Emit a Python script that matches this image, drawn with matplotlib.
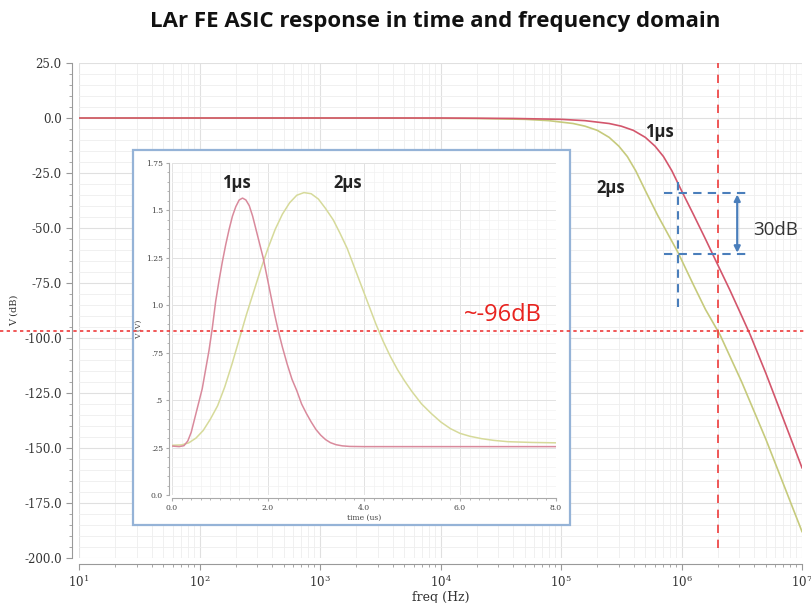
import numpy as np
import matplotlib
matplotlib.use("Agg")
import matplotlib.pyplot as plt
import matplotlib.ticker as mticker
import matplotlib.transforms as mtrans
from matplotlib.patches import Rectangle
from matplotlib.lines import Line2D

plt.rcParams['mathtext.fontset'] = 'dejavuserif'

# Frequency response
freq_2us = [1e1, 3.16e3, 2.0e4, 5.01e4, 7.94e4, 1.26e5, 1.58e5, 2.0e5, 2.51e5, 3.02e5, 3.55e5,
            4.17e5, 5.01e5, 6.31e5, 7.94e5, 9.33e5, 1.26e6, 1.58e6, 2.09e6, 3.16e6, 5.01e6,
            7.08e6, 1e7]
db_2us = [0, 0, -0.2, -0.6, -1.2, -2.5, -3.7, -5.6, -8.8, -12.8, -17.5,
          -24, -33, -44, -54, -61, -76, -87, -98.6, -120, -146, -167, -188]

freq_1us = [1e1, 1e4, 3.98e4, 1e5, 1.58e5, 2.51e5, 3.16e5, 3.98e5, 5.01e5, 6.03e5, 7.08e5,
            8.32e5, 1e6, 1.26e6, 1.58e6, 1.95e6, 2.51e6, 3.16e6, 3.72e6, 5.01e6, 7.08e6, 1e7]
db_1us = [0, 0, -0.2, -0.6, -1.2, -2.5, -3.7, -5.6, -8.8, -12.8, -17.5,
          -24, -33, -44, -55, -65.5, -78, -90, -98.6, -116, -137.5, -159]

# Time response (inset)
t_1us = [0.0, 0.15, 0.25, 0.33, 0.4, 0.47, 0.55, 0.63, 0.7, 0.77, 0.84, 0.91, 0.98, 1.05,
         1.12, 1.19, 1.26, 1.33, 1.40, 1.47, 1.54, 1.61, 1.68, 1.75, 1.82, 1.90, 1.98, 2.06,
         2.14, 2.22, 2.30, 2.40, 2.50, 2.60, 2.70, 2.80, 2.90, 3.00, 3.10, 3.20, 3.30, 3.42,
         3.55, 3.7, 4.0, 8.0]
v_1us = [0.258, 0.255, 0.26, 0.285, 0.33, 0.40, 0.48, 0.56, 0.66, 0.76, 0.88, 1.02, 1.13, 1.23,
         1.32, 1.40, 1.47, 1.52, 1.555, 1.565, 1.555, 1.525, 1.47, 1.40, 1.33, 1.25, 1.15, 1.05,
         0.95, 0.86, 0.78, 0.69, 0.61, 0.55, 0.48, 0.43, 0.385, 0.345, 0.315, 0.292, 0.276, 0.265,
         0.259, 0.256, 0.255, 0.255]

t_2us = [0.0, 0.2, 0.35, 0.5, 0.65, 0.8, 0.95, 1.1, 1.25, 1.4, 1.55, 1.7, 1.85, 2.0, 2.15,
         2.3, 2.45, 2.6, 2.75, 2.9, 3.05, 3.2, 3.36, 3.5, 3.65, 3.8, 3.95, 4.1, 4.25, 4.4,
         4.55, 4.7, 4.85, 5.0, 5.2, 5.4, 5.6, 5.8, 6.0, 6.2, 6.45, 6.7, 7.0, 7.5, 8.0]
v_2us = [0.262, 0.264, 0.275, 0.30, 0.34, 0.40, 0.47, 0.57, 0.69, 0.82, 0.95, 1.07, 1.19, 1.30,
         1.40, 1.48, 1.54, 1.58, 1.594, 1.588, 1.56, 1.51, 1.45, 1.38, 1.30, 1.20, 1.10, 1.00,
         0.90, 0.81, 0.73, 0.66, 0.60, 0.545, 0.48, 0.43, 0.385, 0.35, 0.325, 0.31, 0.297, 0.288,
         0.281, 0.277, 0.275]

y_ticks = [25, 0, -25, -50, -75, -100, -125, -150, -175, -200]
inset_yticks = [0.0, 0.25, 0.5, 0.75, 1.0, 1.25, 1.5, 1.75]
inset_ylabels = ["0.0", ".25", ".5", ".75", "1.0", "1.25", "1.5", "1.75"]
inset_xticks = [0.0, 2.0, 4.0, 6.0, 8.0]

# markers on the plot
cut_freq = 2e6
cut_db = -97
meas_freq = 9.3e5
meas_db = [-34, -62]

RED = '#d3566c'
YEL = '#c6ca7c'
BLUE = '#4a7ebb'
DRED = '#ee3b3b'
SERIF = 'DejaVu Serif'
SANS = 'Open Sans'

fig = plt.figure(figsize=(8.12, 6.03), dpi=100)
ax = fig.add_axes([0.0973, 0.0746, 0.8904, 0.8209])

ax.plot(freq_2us, db_2us, color=YEL, lw=1.2, zorder=3)
ax.plot(freq_1us, db_1us, color=RED, lw=1.2, zorder=3)
ax.set_xscale('log')
ax.set_xlim(1e1, 1e7)
ax.set_ylim(-200, 25)
ax.set_yticks(y_ticks)
ax.yaxis.set_minor_locator(mticker.MultipleLocator(5))
ax.yaxis.set_major_formatter(mticker.FuncFormatter(lambda v, p: "%.1f" % v))
ax.xaxis.set_minor_locator(mticker.LogLocator(base=10, subs=np.arange(2, 10)))
ax.xaxis.set_minor_formatter(mticker.NullFormatter())
ax.grid(True, which='major', color='#e0e0e0', lw=0.8)
ax.grid(True, which='minor', color='#eeeeee', lw=0.6)
for s in ['top', 'right']:
    ax.spines[s].set_visible(False)
ax.spines['left'].set_position(('outward', 5))
ax.spines['bottom'].set_position(('outward', 4))
for s in ['left', 'bottom']:
    ax.spines[s].set_color('#999999')
ax.tick_params(which='major', direction='out', length=4, color='#999999', labelsize=8.5,
               labelcolor='#333333')
ax.tick_params(which='minor', direction='out', length=2, color='#999999')
for lab in ax.get_xticklabels() + ax.get_yticklabels():
    lab.set_fontfamily(SERIF)
ax.set_xlabel("freq (Hz)", fontfamily=SERIF, fontsize=9, color='#333333', labelpad=1)
ax.set_ylabel("V (dB)", fontfamily=SERIF, fontsize=7, color='#333333', labelpad=4)

# cut-off markers
ax.axvline(cut_freq, ymin=0.02, ymax=1.0, color=DRED, lw=1.2, dashes=(5, 4), zorder=4)
blend = mtrans.blended_transform_factory(fig.transFigure, ax.transData)
fig.add_artist(Line2D([0.0, 0.992], [cut_db, cut_db], transform=blend, color=DRED,
                      lw=1.2, dashes=(2, 2), zorder=6))

# 30 dB measurement
ax.plot([7.2e5, 3.4e6], [meas_db[0]] * 2, color=BLUE, lw=1.5, dashes=(4, 3), zorder=4)
ax.plot([7.2e5, 3.7e6], [meas_db[1]] * 2, color=BLUE, lw=1.5, dashes=(4, 3), zorder=4)
ax.plot([meas_freq] * 2, [-29, -88], color=BLUE, lw=1.5, dashes=(4, 3), zorder=4)
ax.annotate('', xy=(2.9e6, meas_db[1] - 0.5), xytext=(2.9e6, meas_db[0] + 0.5),
            arrowprops=dict(arrowstyle='<|-|>', color=BLUE, lw=1.6, mutation_scale=9),
            zorder=5)
ax.text(6.0e6, -51, "30dB", fontsize=13.5, fontfamily=SANS, color='#333333',
        ha='center', va='center')
ax.text(6.6e5, -6.4, "1µs", fontsize=12, fontweight='bold', fontfamily=SANS,
        ha='center', va='center', color='#222222')
ax.text(2.6e5, -31.8, "2µs", fontsize=12, fontweight='bold', fontfamily=SANS,
        ha='center', va='center', color='#222222')

# inset frame
fig.add_artist(Rectangle((0.1638, 0.1294), 0.5382, 0.6219, transform=fig.transFigure,
                         facecolor='white', edgecolor='#95b3d7', lw=1.6, zorder=1))

ins = fig.add_axes([0.2118, 0.1791, 0.4729, 0.5506])
ins.set_zorder(3)
ins.plot(t_2us, v_2us, color='#d6da9a', lw=1.1)
ins.plot(t_1us, v_1us, color='#d98a9c', lw=1.1)
ins.set_xlim(0, 8)
ins.set_ylim(0, 1.75)
ins.set_yticks(inset_yticks)
ins.set_yticklabels(inset_ylabels)
ins.set_xticks(inset_xticks)
ins.set_xticklabels(["%.1f" % v for v in inset_xticks])
ins.xaxis.set_minor_locator(mticker.MultipleLocator(0.2))
ins.yaxis.set_minor_locator(mticker.MultipleLocator(0.05))
ins.grid(True, which='major', color='#e2e2e2', lw=0.7)
ins.grid(True, which='minor', color='#f1f1f1', lw=0.5)
for s in ['top', 'right']:
    ins.spines[s].set_visible(False)
ins.spines['left'].set_position(('outward', 2))
ins.spines['bottom'].set_position(('outward', 2))
for s in ['left', 'bottom']:
    ins.spines[s].set_color('#aaaaaa')
ins.tick_params(which='major', direction='out', length=2.5, color='#aaaaaa', labelsize=5.5,
                labelcolor='#444444', pad=2)
ins.tick_params(which='minor', direction='out', length=1.2, color='#aaaaaa')
for lab in ins.get_xticklabels() + ins.get_yticklabels():
    lab.set_fontfamily(SERIF)
ins.set_xlabel("time (us)", fontfamily=SERIF, fontsize=5.5, color='#444444', labelpad=1)
ins.set_ylabel("V (V)", fontfamily=SERIF, fontsize=5.5, color='#444444', labelpad=2)
ins.text(1.35, 1.645, "1µs", fontsize=12, fontweight='bold', fontfamily=SANS,
         ha='center', va='center', color='#222222')
ins.text(3.67, 1.645, "2µs", fontsize=12, fontweight='bold', fontfamily=SANS,
         ha='center', va='center', color='#222222')

fig.text(0.619, 0.478, "~-96dB", fontsize=17, fontfamily=SANS, color='#e8231f',
         ha='center', va='center', zorder=7)

fig.text(0.536, 0.965, "LAr FE ASIC response in time and frequency domain", fontsize=16,
         fontweight='bold', fontfamily=SANS, ha='center', va='center', color='#111111')

fig.savefig("out.png", dpi=100)
